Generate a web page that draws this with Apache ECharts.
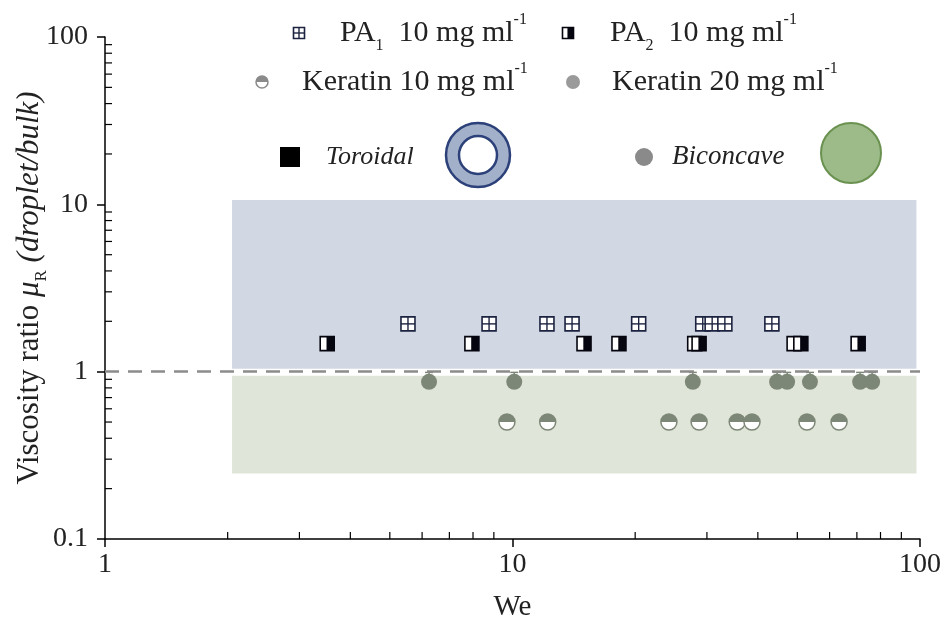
<!DOCTYPE html>
<html>
<head>
<meta charset="utf-8">
<script src="https://cdn.jsdelivr.net/npm/echarts@6/dist/echarts.min.js"></script>
<style>
html, body { margin: 0; padding: 0; background: #fff; }
#main { width: 950px; height: 626px; }
</style>
</head>
<body>
<div id="main"></div>
<script>
// data (We, viscosity ratio)
var pa1We = [5.54, 8.76, 12.15, 14.0, 20.4, 29.3, 30.9, 33.2, 43.3];
var pa1Mu = [1.93, 1.93, 1.93, 1.93, 1.93, 1.93, 1.93, 1.93, 1.93];
var pa2We = [3.51, 7.95, 14.98, 18.25, 28.0, 28.7, 49.1, 51.0, 70.5];
var pa2Mu = [1.47, 1.47, 1.47, 1.47, 1.47, 1.47, 1.47, 1.47, 1.47];
var ker10We = [9.69, 12.2, 24.2, 28.7, 35.6, 38.7, 52.8, 63.3];
var ker10Mu = [0.5, 0.5, 0.5, 0.5, 0.5, 0.5, 0.5, 0.5];
var ker20We = [6.24, 10.1, 27.7, 44.6, 47.2, 53.7, 71.3, 76.3];
var ker20Mu = [0.87, 0.87, 0.87, 0.87, 0.87, 0.87, 0.87, 0.87];
var ker20Upper = 0.99;

// regime boxes [x0, y0, x1, y1]
var toroidalBox = [2.05, 1.04, 98, 10.6];
var biconcaveBox = [2.05, 0.246, 98, 0.946];
var criticalRatio = 1;

var xMinor = [2, 3, 4, 5, 6, 7, 8, 9, 20, 30, 40, 50, 60, 70, 80, 90];
var yMinor = [0.2, 0.3, 0.4, 0.5, 0.6, 0.7, 0.8, 0.9, 2, 3, 4, 5, 6, 7, 8, 9, 20, 30, 40, 50, 60, 70, 80, 90];

var serif = 'Liberation Serif';
var navy = '#1c2340';
var olive = '#7d8777';

function zip(a, b) {
    return a.map(function (v, i) { return [v, b[i]]; });
}

// marker shapes, s = half size
function marker(kind, x, y, s, col) {
    if (kind == 'pa1') {
        return [
            { type: 'rect', shape: { x: x - s, y: y - s, width: 2 * s, height: 2 * s }, style: { fill: '#fff', stroke: navy, lineWidth: 1.6 } },
            { type: 'line', shape: { x1: x - s, y1: y, x2: x + s, y2: y }, style: { stroke: navy, lineWidth: 1.4 } },
            { type: 'line', shape: { x1: x, y1: y - s, x2: x, y2: y + s }, style: { stroke: navy, lineWidth: 1.4 } }
        ];
    }
    if (kind == 'pa2') {
        return [
            { type: 'rect', shape: { x: x - s, y: y - s, width: 2 * s, height: 2 * s }, style: { fill: '#fff', stroke: '#05050f', lineWidth: 1.6 } },
            { type: 'rect', shape: { x: x - s * 0.1, y: y - s, width: s * 1.1, height: 2 * s }, style: { fill: '#05050f' } }
        ];
    }
    if (kind == 'ker10') {
        return [
            { type: 'circle', shape: { cx: x, cy: y, r: s }, style: { fill: '#fff', stroke: col || olive, lineWidth: 1.5 } },
            { type: 'sector', shape: { cx: x, cy: y, r0: 0, r: s, startAngle: Math.PI, endAngle: Math.PI * 2 }, style: { fill: col || olive } }
        ];
    }
    return [
        { type: 'circle', shape: { cx: x, cy: y, r: s }, style: { fill: col || olive } }
    ];
}

function renderer(kind, s) {
    return function (params, api) {
        var p = api.coord([api.value(0), api.value(1)]);
        var kids = marker(kind, p[0], p[1], s);
        if (kind == 'ker20') {
            var top = api.coord([api.value(0), ker20Upper])[1];
            kids.unshift(
                { type: 'line', shape: { x1: p[0], y1: p[1], x2: p[0], y2: top }, style: { stroke: olive, lineWidth: 1.5 } },
                { type: 'line', shape: { x1: p[0] - 4, y1: top, x2: p[0] + 4, y2: top }, style: { stroke: olive, lineWidth: 1.5 } }
            );
        }
        return { type: 'group', children: kids };
    };
}

// minor ticks, pointing into the plot
function tickRenderer(params, api) {
    var p = api.coord([api.value(0), api.value(1)]);
    if (api.value(2) == 0) {
        return { type: 'line', shape: { x1: p[0], y1: p[1], x2: p[0], y2: p[1] - 7 }, style: { stroke: '#000', lineWidth: 1.2 } };
    }
    return { type: 'line', shape: { x1: p[0], y1: p[1], x2: p[0] + 7, y2: p[1] }, style: { stroke: '#000', lineWidth: 1.2 } };
}

var tickData = xMinor.map(function (v) { return [v, 0.1, 0]; })
    .concat(yMinor.map(function (v) { return [1, v, 1]; }));

var richLegend = {
    n: { fontFamily: serif, fontSize: 30, lineHeight: 42, fill: '#222', color: '#222' },
    sub: { fontFamily: serif, fontSize: 16, lineHeight: 16, verticalAlign: 'bottom', fill: '#222', color: '#222' },
    sup: { fontFamily: serif, fontSize: 16, lineHeight: 20, verticalAlign: 'top', fill: '#222', color: '#222' }
};

function legendText(txt, x, y) {
    return { type: 'text', x: x, y: y, silent: true,
        style: { text: txt, rich: richLegend, align: 'left', verticalAlign: 'middle' } };
}

function legendIcon(kind, x, y, s, col) {
    return { type: 'group', silent: true, children: marker(kind, 0, 0, s, col), x: x, y: y };
}

var graphics = [
    legendIcon('pa1', 299, 33, 5.5),
    legendText('{n|PA}{sub|1}{n|  10 mg ml}{sup|-1}', 340, 33),
    legendIcon('pa2', 568, 33, 5.5),
    legendText('{n|PA}{sub|2}{n|  10 mg ml}{sup|-1}', 610, 33),
    legendIcon('ker10', 262, 82, 6, '#8a8a8a'),
    legendText('{n|Keratin 10 mg ml}{sup|-1}', 302, 82),
    legendIcon('ker20', 573, 82, 7, '#9a9a9a'),
    legendText('{n|Keratin 20 mg ml}{sup|-1}', 612, 82),
    { type: 'rect', silent: true, shape: { x: 280, y: 147, width: 20, height: 20 }, style: { fill: '#000' } },
    { type: 'text', x: 326, y: 157, silent: true, style: { text: 'Toroidal', fontFamily: serif, fontStyle: 'italic', fontSize: 26, fill: '#222', align: 'left', verticalAlign: 'middle' } },
    { type: 'ring', silent: true, shape: { cx: 478, cy: 155, r: 32, r0: 19 }, style: { fill: '#a3b0ca', stroke: '#2c4079', lineWidth: 2.5 } },
    { type: 'circle', silent: true, shape: { cx: 644, cy: 157, r: 9 }, style: { fill: '#8a8a8a' } },
    { type: 'text', x: 672, y: 157, silent: true, style: { text: 'Biconcave', fontFamily: serif, fontStyle: 'italic', fontSize: 27, fill: '#222', align: 'left', verticalAlign: 'middle' } },
    { type: 'circle', silent: true, shape: { cx: 851, cy: 153, r: 30 }, style: { fill: '#9cbb89', stroke: '#6a9150', lineWidth: 2 } }
];

var option = {
    animation: false,
    backgroundColor: '#fff',
    grid: { left: 105, right: 30, top: 37, bottom: 87, outerBoundsMode: 'none' },
    xAxis: {
        type: 'log', logBase: 10, min: 1, max: 100,
        name: 'We', nameLocation: 'middle', nameGap: 54, nameMoveOverlap: false,
        nameTextStyle: { fontFamily: serif, fontSize: 29, color: '#222' },
        axisLine: { lineStyle: { color: '#000', width: 1.5 } },
        axisTick: { inside: false, length: 8, lineStyle: { color: '#000', width: 1.5 } },
        axisLabel: { fontFamily: serif, fontSize: 28, color: '#222', margin: 12 },
        splitLine: { show: false }
    },
    yAxis: {
        type: 'log', logBase: 10, min: 0.1, max: 100,
        name: '{a|Viscosity ratio }{i|μ}{s|R}{i| (droplet/bulk)}',
        nameLocation: 'middle', nameRotate: 90, nameGap: 55, nameMoveOverlap: false,
        nameTextStyle: {
            fontFamily: serif, fontSize: 31, color: '#222',
            rich: {
                a: { fontFamily: serif, fontSize: 31, color: '#222', lineHeight: 40 },
                i: { fontFamily: serif, fontSize: 31, fontStyle: 'italic', color: '#222', lineHeight: 40 },
                s: { fontFamily: serif, fontSize: 17, color: '#222', verticalAlign: 'bottom', lineHeight: 17 }
            }
        },
        axisLine: { lineStyle: { color: '#000', width: 1.5 } },
        axisTick: { inside: false, length: 8, lineStyle: { color: '#000', width: 1.5 } },
        axisLabel: { fontFamily: serif, fontSize: 28, color: '#222', margin: 17 },
        splitLine: { show: false }
    },
    series: [
        {
            type: 'scatter', data: [], z: 1, silent: true,
            markArea: {
                silent: true,
                data: [
                    [{ coord: [toroidalBox[0], toroidalBox[1]], itemStyle: { color: '#d1d7e3' } }, { coord: [toroidalBox[2], toroidalBox[3]] }],
                    [{ coord: [biconcaveBox[0], biconcaveBox[1]], itemStyle: { color: '#dfe5d8' } }, { coord: [biconcaveBox[2], biconcaveBox[3]] }]
                ]
            },
            markLine: {
                silent: true, symbol: 'none', label: { show: false },
                lineStyle: { color: '#8c8c8c', width: 2.5, type: [14, 9] },
                data: [{ yAxis: criticalRatio }]
            }
        },
        { type: 'custom', name: 'ticks', z: 3, silent: true, renderItem: tickRenderer, data: tickData },
        { type: 'custom', name: 'ker20', z: 4, renderItem: renderer('ker20', 8), data: zip(ker20We, ker20Mu) },
        { type: 'custom', name: 'ker10', z: 4, renderItem: renderer('ker10', 8), data: zip(ker10We, ker10Mu) },
        { type: 'custom', name: 'pa1', z: 4, renderItem: renderer('pa1', 7), data: zip(pa1We, pa1Mu) },
        { type: 'custom', name: 'pa2', z: 4, renderItem: renderer('pa2', 7), data: zip(pa2We, pa2Mu) }
    ],
    graphic: graphics
};

var chart = echarts.init(document.getElementById('main'));
chart.setOption(option);
</script>
</body>
</html>
